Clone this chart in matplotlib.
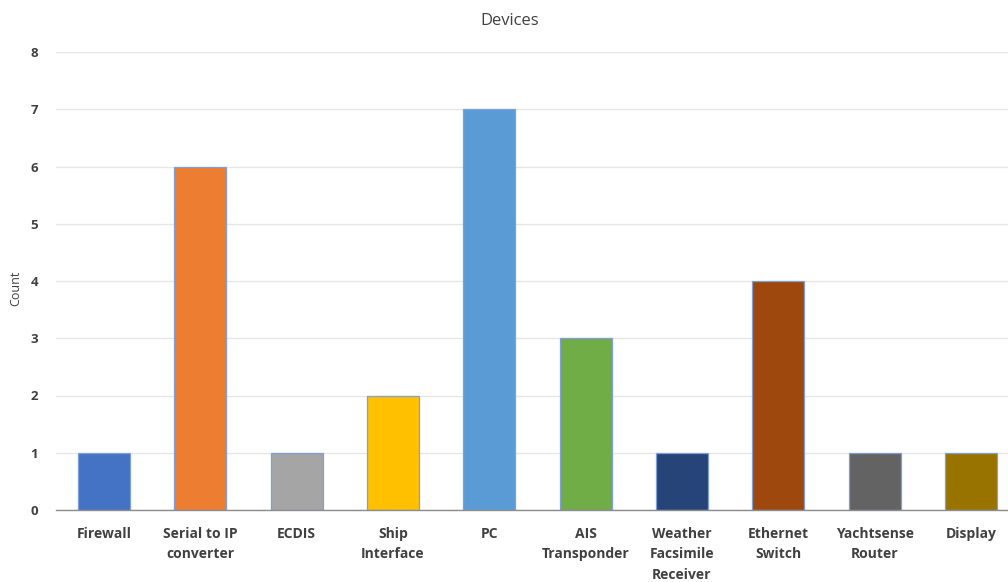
import matplotlib
matplotlib.use("Agg")
import matplotlib.pyplot as plt

categories = ["Firewall", "Serial to IP\nconverter", "ECDIS", "Ship\nInterface", "PC",
              "AIS\nTransponder", "Weather\nFacsimile\nReceiver", "Ethernet\nSwitch",
              "Yachtsense\nRouter", "Display"]
counts = [1, 6, 1, 2, 7, 3, 1, 4, 1, 1]
colors = ["#4472C4", "#ED7D31", "#A5A5A5", "#FFC000", "#5B9BD5",
          "#70AD47", "#264478", "#9E480E", "#636363", "#997300"]
yticks = [0, 1, 2, 3, 4, 5, 6, 7, 8]

plt.rcParams['font.family'] = ['Open Sans', 'DejaVu Sans']

W, H = 1008, 582
fig = plt.figure(figsize=(W/100, H/100), dpi=100)
left, right, top, bottom = 56, 1008, 52, 510
ax = fig.add_axes([left/W, 1 - bottom/H, (right-left)/W, (bottom-top)/H])

x = list(range(len(categories)))
ax.bar(x, counts, width=0.54, color=colors, edgecolor="#7f9fd8", linewidth=0.9, zorder=3)

step = 96.3
ax.set_xlim(-0.5, -0.5 + (right-left)/step)
ax.set_ylim(0, 8)
ax.set_yticks(yticks)
ax.yaxis.grid(True, color="#e6e6e6", linewidth=1.0, zorder=0)
ax.set_xticks(x)
ax.set_xticklabels(categories, fontsize=10, fontweight="bold", color="#404040", linespacing=1.6)
for lbl in ax.get_yticklabels():
    lbl.set_fontsize(9.5)
    lbl.set_fontweight("bold")
    lbl.set_color("#404040")
ax.tick_params(axis="both", length=0)
ax.tick_params(axis="x", pad=12)
ax.tick_params(axis="y", pad=13)
for s in ["top", "right", "left"]:
    ax.spines[s].set_visible(False)
ax.spines["bottom"].set_color("#8c8c8c")
ax.spines["bottom"].set_linewidth(1.0)
ax.spines["bottom"].set_zorder(4)

fig.text(510/W, 1 - 21/H, "Devices", ha="center", va="center", fontsize=12, color="#404040")
fig.text(16/W, 1 - 288/H, "Count", ha="center", va="center", rotation=90, fontsize=9, color="#404040")

fig.savefig("out.png", dpi=100)
